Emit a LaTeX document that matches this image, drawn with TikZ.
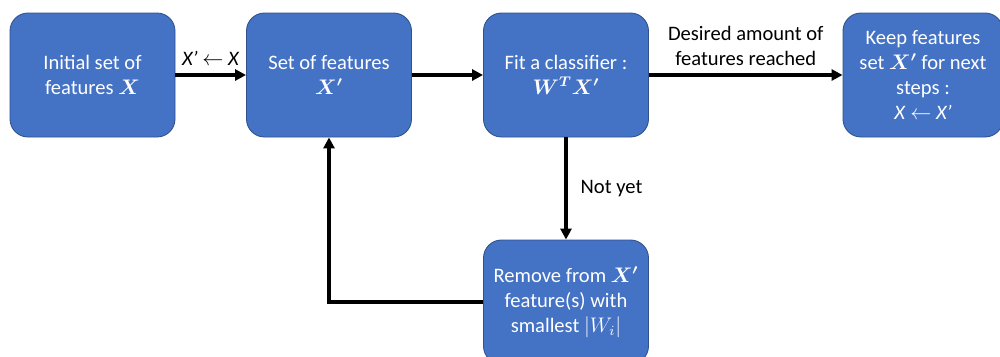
\documentclass[tikz,border=0pt]{standalone}
\usepackage{fontspec}
\setmainfont{Carlito}
\usepackage{amsmath,bm}
\usepackage{xcolor}
\usepackage{tikz}
\usetikzlibrary{arrows.meta, positioning, calc}

\definecolor{boxblue}{RGB}{68,114,196}
\definecolor{boxedge}{RGB}{47,82,143}

\tikzset{
  stepbox/.style={rectangle, rounded corners=0.36cm, fill=boxblue, draw=boxedge,
    line width=0.5pt, minimum width=3.3cm, minimum height=2.48cm,
    text=white, align=center, inner sep=2pt},
  flowarrow/.style={line width=2pt, -{Triangle[length=2.2mm, width=2.2mm]}},
  flowlabel/.style={text=black, align=center}
}

\begin{document}
\begin{tikzpicture}[font=\fontsize{11.7}{14.2}\selectfont]
  \useasboundingbox (0,0) rectangle (20,-7.12);
  \clip (0,0) rectangle (20,-7.12);

  % Boxes
  \node[stepbox] (init) at (1.85,-1.5) {Initial set of\\features $\bm{X}$};
  \node[stepbox] (set) at (6.58,-1.5) {Set of features\\$\bm{X'}$};
  \node[stepbox] (fit) at (11.32,-1.5) {Fit a classifier :\\$\bm{W^{T}X'}$};
  \node[stepbox, minimum width=3.2cm] (keep) at (18.46,-1.5)
    {Keep features\\set $\bm{X'}$ for next\\steps :\\\textit{X} $\leftarrow$ \textit{X’}};
  \node[stepbox] (remove) at (11.32,-6.04)
    {Remove from $\bm{X'}$\\feature(s) with\\smallest $|W_i|$};

  % Arrows
  \draw[flowarrow] (init) -- node[flowlabel, above=1pt] {\textit{X’} $\leftarrow$ \textit{X}} (set);
  \draw[flowarrow] (set) -- (fit);
  \draw[flowarrow] (fit) -- node[flowlabel, above=1pt] {Desired amount of\\features reached} (keep);
  \draw[flowarrow] (fit) -- node[flowlabel, right=4pt] {Not yet} (remove);
  \draw[flowarrow] (remove.west) -| (set.south);
\end{tikzpicture}
\end{document}
